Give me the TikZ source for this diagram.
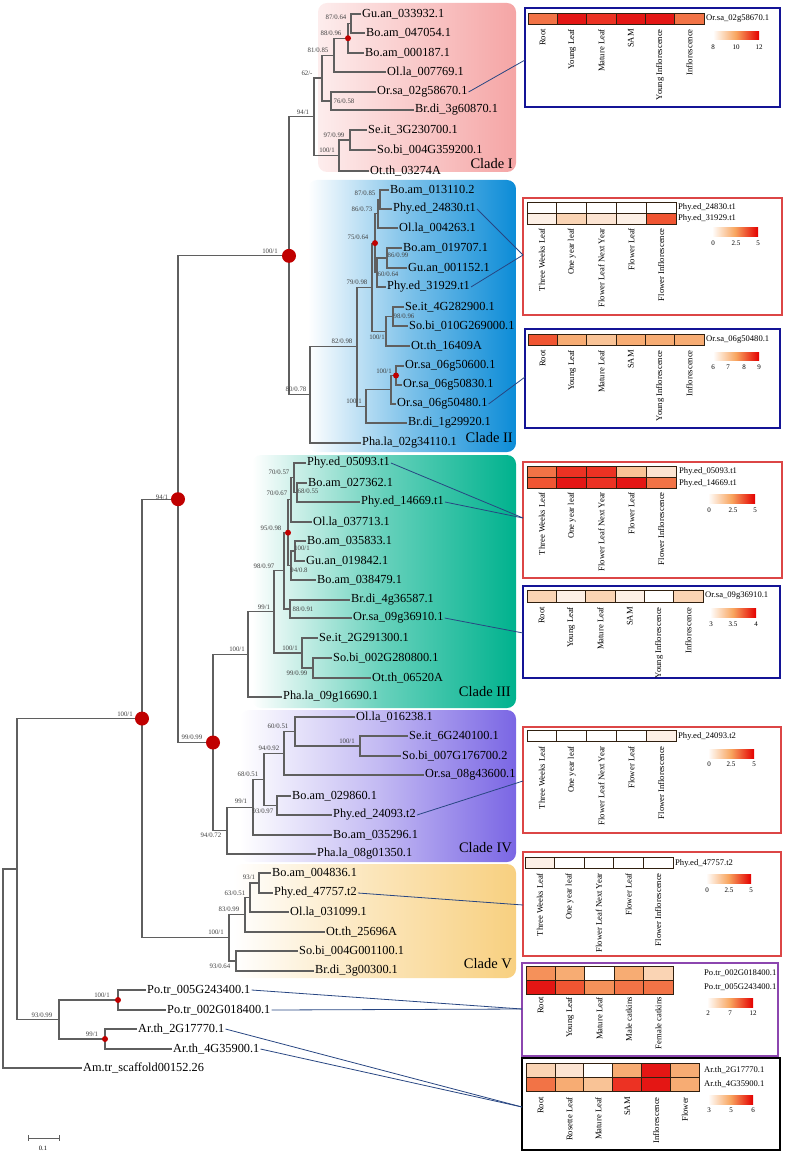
\documentclass[tikz,border=0pt]{standalone}
\usepackage{fontspec}
\setmainfont{Liberation Serif}
\definecolor{branchc}{RGB}{95,95,95}
\definecolor{dotc}{RGB}{192,0,0}
\definecolor{linkc}{RGB}{40,70,130}
\definecolor{cladeI}{RGB}{245,165,165}
\definecolor{cladeII}{RGB}{12,140,215}
\definecolor{cladeIII}{RGB}{0,178,142}
\definecolor{cladeIV}{RGB}{122,102,228}
\definecolor{cladeV}{RGB}{248,208,128}
\definecolor{boxblue}{RGB}{20,20,150}
\definecolor{boxred}{RGB}{220,70,70}
\definecolor{boxpurple}{RGB}{140,70,175}
\definecolor{hmA}{RGB}{228,22,20}
\definecolor{hmB}{RGB}{236,50,35}
\definecolor{hmC}{RGB}{240,85,50}
\definecolor{hmD}{RGB}{242,115,70}
\definecolor{hmE}{RGB}{245,145,90}
\definecolor{hmF}{RGB}{247,172,115}
\definecolor{hmG}{RGB}{249,195,150}
\definecolor{hmH}{RGB}{250,212,180}
\definecolor{hmI}{RGB}{252,228,210}
\definecolor{hmJ}{RGB}{253,240,230}
\definecolor{legmid}{RGB}{248,165,95}
\definecolor{legred}{RGB}{228,0,0}
\tikzset{
  leaf/.style={anchor=west, inner sep=1pt, font=\fontsize{12.3}{14}\selectfont},
  bs/.style={inner sep=0pt, text=black!75, font=\fontsize{6.8}{8}\selectfont},
  cladelab/.style={anchor=east, inner sep=1pt, font=\fontsize{14.5}{16}\selectfont},
  clade/.style={rounded corners=9pt},
  branch/.style={draw=branchc, line width=1.1pt},
  link/.style={draw=linkc, line width=0.8pt},
  panel/.style={line width=2.2pt},
  cell/.style={draw=black!75!brown, line width=0.8pt},
  gene/.style={anchor=west, inner sep=1pt, font=\fontsize{8.6}{10}\selectfont},
  collab/.style={rotate=90, anchor=east, inner sep=1pt, font=\fontsize{8.6}{10}\selectfont},
  tick/.style={inner sep=0pt, font=\fontsize{7}{8}\selectfont},
  legbar/.style={left color=white, right color=legred, middle color=legmid}
}
\begin{document}
\begin{tikzpicture}[x=1pt,y=-1pt]
\useasboundingbox (0,0) rectangle (786,1158);

% clade backgrounds
\shade[clade, left color=cladeI!20, right color=cladeI] (318,3) rectangle (516,172);
\shade[clade, left color=white, right color=cladeII, middle color=cladeII!55] (308,180) rectangle (516,452);
\shade[clade, left color=white, right color=cladeIII, middle color=cladeIII!60] (252,455) rectangle (516,708);
\shade[clade, left color=white, right color=cladeIV, middle color=cladeIV!45] (240,710) rectangle (516,862);
\shade[clade, left color=white, right color=cladeV, middle color=cladeV!55] (233,864) rectangle (516,978);

% leaves
\draw
  (361,14) node[leaf] (gu1) {Gu.an\_033932.1}
  (365,33) node[leaf] (bo1) {Bo.am\_047054.1}
  (364,53) node[leaf] (bo2) {Bo.am\_000187.1}
  (386,72) node[leaf] (ol1) {Ol.la\_007769.1}
  (376,92) node[leaf] (or1) {Or.sa\_02g58670.1}
  (414,110) node[leaf] (br1) {Br.di\_3g60870.1}
  (367,130) node[leaf] (se1) {Se.it\_3G230700.1}
  (376,150) node[leaf] (so1) {So.bi\_004G359200.1}
  (369,171) node[leaf] (ot1) {Ot.th\_03274A}
  (389,190) node[leaf] (bo3) {Bo.am\_013110.2}
  (392,209) node[leaf] (ph1) {Phy.ed\_24830.t1}
  (398,228) node[leaf] (ol2) {Ol.la\_004263.1}
  (402,248) node[leaf] (bo4) {Bo.am\_019707.1}
  (407,268) node[leaf] (gu2) {Gu.an\_001152.1}
  (386,287) node[leaf] (ph2) {Phy.ed\_31929.t1}
  (404,307) node[leaf] (se2) {Se.it\_4G282900.1}
  (408,326) node[leaf] (so2) {So.bi\_010G269000.1}
  (410,346) node[leaf] (ot2) {Ot.th\_16409A}
  (404,366) node[leaf] (or2) {Or.sa\_06g50600.1}
  (402,385) node[leaf] (or3) {Or.sa\_06g50830.1}
  (396,404) node[leaf] (or4) {Or.sa\_06g50480.1}
  (407,423) node[leaf] (br2) {Br.di\_1g29920.1}
  (361,443) node[leaf] (pa1) {Pha.la\_02g34110.1}
  (306,463) node[leaf] (ph3) {Phy.ed\_05093.t1}
  (307,483) node[leaf] (bo5) {Bo.am\_027362.1}
  (360,502) node[leaf] (ph4) {Phy.ed\_14669.t1}
  (312,522) node[leaf] (ol3) {Ol.la\_037713.1}
  (306,541) node[leaf] (bo6) {Bo.am\_035833.1}
  (305,561) node[leaf] (gu3) {Gu.an\_019842.1}
  (316,580) node[leaf] (bo7) {Bo.am\_038479.1}
  (350,600) node[leaf] (br3) {Br.di\_4g36587.1}
  (352,618) node[leaf] (or5) {Or.sa\_09g36910.1}
  (318,638) node[leaf] (se3) {Se.it\_2G291300.1}
  (332,658) node[leaf] (so3) {So.bi\_002G280800.1}
  (371,678) node[leaf] (ot3) {Ot.th\_06520A}
  (282,697) node[leaf] (pa2) {Pha.la\_09g16690.1}
  (355,717) node[leaf] (ol4) {Ol.la\_016238.1}
  (408,736) node[leaf] (se4) {Se.it\_6G240100.1}
  (401,756) node[leaf] (so4) {So.bi\_007G176700.2}
  (424,775) node[leaf] (or6) {Or.sa\_08g43600.1}
  (291,796) node[leaf] (bo8) {Bo.am\_029860.1}
  (332,815) node[leaf] (ph5) {Phy.ed\_24093.t2}
  (332,835) node[leaf] (bo9) {Bo.am\_035296.1}
  (316,854) node[leaf] (pa3) {Pha.la\_08g01350.1}
  (271,873) node[leaf] (bo10) {Bo.am\_004836.1}
  (273,893) node[leaf] (ph6) {Phy.ed\_47757.t2}
  (289,912) node[leaf] (ol5) {Ol.la\_031099.1}
  (325,932) node[leaf] (ot4) {Ot.th\_25696A}
  (298,951) node[leaf] (so5) {So.bi\_004G001100.1}
  (314,971) node[leaf] (br4) {Br.di\_3g00300.1}
  (146,990) node[leaf] (po1) {Po.tr\_005G243400.1}
  (166,1010) node[leaf] (po2) {Po.tr\_002G018400.1}
  (137,1029) node[leaf] (ar1) {Ar.th\_2G17770.1}
  (172,1049) node[leaf] (ar2) {Ar.th\_4G35900.1}
  (82,1068) node[leaf] (am1) {Am.tr\_scaffold00152.26};

% internal nodes
\path
  (351,23.5) coordinate (n1)
  (348,38.25) coordinate (n2)
  (334,55.1) coordinate (n3)
  (331,101) coordinate (n4)
  (322,78.05) coordinate (n5)
  (350,140) coordinate (n6)
  (339,155.5) coordinate (n7)
  (314,116.8) coordinate (n8)
  (380,199.5) coordinate (m1)
  (378,213.75) coordinate (m2)
  (387,258) coordinate (m3)
  (377,272.5) coordinate (m4)
  (375,243.1) coordinate (m5)
  (393,316.5) coordinate (m6)
  (386,331.25) coordinate (m7)
  (372,287.2) coordinate (m8)
  (396,375.5) coordinate (o1)
  (391,389.75) coordinate (o2)
  (366,406.4) coordinate (o3)
  (357,346.8) coordinate (m9)
  (310,394.9) coordinate (m10)
  (289,255.85) coordinate (A)
  (297,492.5) coordinate (t1)
  (294,477.75) coordinate (t2)
  (291,499.9) coordinate (t3)
  (295,551) coordinate (t4)
  (291,565.5) coordinate (t5)
  (288,532.7) coordinate (t6)
  (290,609) coordinate (t7)
  (284,570.85) coordinate (t8)
  (313,668) coordinate (t11)
  (302,653) coordinate (t10)
  (274,611.9) coordinate (t9)
  (248,654.45) coordinate (t12)
  (360,746) coordinate (f1)
  (295,731.5) coordinate (f2)
  (284,753.25) coordinate (f3)
  (277,805.5) coordinate (f4)
  (264,779.4) coordinate (f5)
  (253,807.2) coordinate (f6)
  (227,830.6) coordinate (f7)
  (213,742.5) coordinate (C)
  (178,499.2) coordinate (B)
  (259,883) coordinate (v1)
  (250,897.5) coordinate (v2)
  (245,914.75) coordinate (v3)
  (236,961) coordinate (v4)
  (229,937.9) coordinate (v5)
  (142,718.55) coordinate (D)
  (118,1000) coordinate (p1)
  (105,1039) coordinate (p2)
  (59,1019.5) coordinate (p3)
  (17,869) coordinate (E)
  (3,968.5) coordinate (F);

\begin{scope}[branch]
  \draw (gu1.west) -| (n1) |- (bo1.west);
  \draw (n1) -| (n2) |- (bo2.west);
  \draw (n2) -| (n3) |- (ol1.west);
  \draw (or1.west) -| (n4) |- (br1.west);
  \draw (n3) -| (n5) |- (n4);
  \draw (se1.west) -| (n6) |- (so1.west);
  \draw (n6) -| (n7) |- (ot1.west);
  \draw (n5) -| (n8) |- (n7);
  \draw (bo3.west) -| (m1) |- (ph1.west);
  \draw (m1) -| (m2) |- (ol2.west);
  \draw (bo4.west) -| (m3) |- (gu2.west);
  \draw (m3) -| (m4) |- (ph2.west);
  \draw (m2) -| (m5) |- (m4);
  \draw (se2.west) -| (m6) |- (so2.west);
  \draw (m6) -| (m7) |- (ot2.west);
  \draw (m5) -| (m8) |- (m7);
  \draw (or2.west) -| (o1) |- (or3.west);
  \draw (o1) -| (o2) |- (or4.west);
  \draw (o2) -| (o3) |- (br2.west);
  \draw (m8) -| (m9) |- (o3);
  \draw (m9) -| (m10) |- (pa1.west);
  \draw (n8) -| (A) |- (m10);
  \draw (bo5.west) -| (t1) |- (ph4.west);
  \draw (ph3.west) -| (t2) |- (t1);
  \draw (t2) -| (t3) |- (ol3.west);
  \draw (bo6.west) -| (t4) |- (gu3.west);
  \draw (t4) -| (t5) |- (bo7.west);
  \draw (t3) -| (t6) |- (t5);
  \draw (br3.west) -| (t7) |- (or5.west);
  \draw (t6) -| (t8) |- (t7);
  \draw (so3.west) -| (t11) |- (ot3.west);
  \draw (se3.west) -| (t10) |- (t11);
  \draw (t8) -| (t9) |- (t10);
  \draw (t9) -| (t12) |- (pa2.west);
  \draw (se4.west) -| (f1) |- (so4.west);
  \draw (ol4.west) -| (f2) |- (f1);
  \draw (f2) -| (f3) |- (or6.west);
  \draw (bo8.west) -| (f4) |- (ph5.west);
  \draw (f3) -| (f5) |- (f4);
  \draw (f5) -| (f6) |- (bo9.west);
  \draw (f6) -| (f7) |- (pa3.west);
  \draw (t12) -| (C) |- (f7);
  \draw (A) -| (B) |- (C);
  \draw (bo10.west) -| (v1) |- (ph6.west);
  \draw (v1) -| (v2) |- (ol5.west);
  \draw (v2) -| (v3) |- (ot4.west);
  \draw (so5.west) -| (v4) |- (br4.west);
  \draw (v3) -| (v5) |- (v4);
  \draw (B) -| (D) |- (v5);
  \draw (po1.west) -| (p1) |- (po2.west);
  \draw (ar1.west) -| (p2) |- (ar2.west);
  \draw (p1) -| (p3) |- (p2);
  \draw (D) -| (E) |- (p3);
  \draw (E) -| (F) |- (am1.west);
\end{scope}

% supported nodes
\fill[dotc] (A) circle (7) (B) circle (7) (C) circle (7) (D) circle (7);
\fill[dotc] (n2) circle (3) (m5) circle (3) (o1) circle (3) (t6) circle (3)
  (p1) circle (3) (p2) circle (3);

% bootstrap / posterior values
\draw
  (336,17) node[bs] (s1) {87/0.64}
  (331,33) node[bs] (s2) {88/0.96}
  (318,50) node[bs] (s3) {81/0.85}
  (344,101) node[bs] (s4) {76/0.58}
  (307,73) node[bs] (s5) {62/-}
  (334,135) node[bs] (s6) {97/0.99}
  (327,150) node[bs] (s7) {100/1}
  (303,112) node[bs] (s8) {94/1}
  (365,193) node[bs] (s9) {87/0.85}
  (362,209) node[bs] (s10) {86/0.73}
  (398,255) node[bs] (s11) {86/0.99}
  (388,274) node[bs] (s12) {60/0.64}
  (358,237) node[bs] (s13) {75/0.64}
  (404,316) node[bs] (s14) {98/0.96}
  (377,337) node[bs] (s15) {100/1}
  (357,282) node[bs] (s16) {79/0.98}
  (384,371) node[bs] (s17) {100/1}
  (354,401) node[bs] (s18) {100/1}
  (342,341) node[bs] (s19) {82/0.98}
  (296,389) node[bs] (s20) {80/0.78}
  (270,251) node[bs] (s21) {100/1}
  (308,491) node[bs] (s22) {68/0.55}
  (279,472) node[bs] (s23) {70/0.57}
  (277,493) node[bs] (s24) {70/0.67}
  (302,548) node[bs] (s25) {100/1}
  (299,570) node[bs] (s26) {94/0.8}
  (271,528) node[bs] (s27) {95/0.98}
  (303,609) node[bs] (s28) {88/0.91}
  (264,566) node[bs] (s29) {98/0.97}
  (297,673) node[bs] (s30) {99/0.99}
  (290,648) node[bs] (s31) {100/1}
  (264,607) node[bs] (s32) {99/1}
  (237,649) node[bs] (s33) {100/1}
  (347,741) node[bs] (s34) {100/1}
  (278,726) node[bs] (s35) {60/0.51}
  (269,748) node[bs] (s36) {94/0.92}
  (263,811) node[bs] (s37) {93/0.97}
  (248,774) node[bs] (s38) {68/0.51}
  (241,801) node[bs] (s39) {99/1}
  (211,835) node[bs] (s40) {94/0.72}
  (192,737) node[bs] (s41) {99/0.99}
  (162,497) node[bs] (s42) {94/1}
  (249,877) node[bs] (s43) {93/1}
  (235,893) node[bs] (s44) {63/0.51}
  (229,909) node[bs] (s45) {83/0.99}
  (220,966) node[bs] (s46) {93/0.64}
  (216,932) node[bs] (s47) {100/1}
  (125,714) node[bs] (s48) {100/1}
  (102,995) node[bs] (s49) {100/1}
  (92,1034) node[bs] (s50) {99/1}
  (42,1015) node[bs] (s51) {93/0.99};

% clade names
\draw
  (514,164) node[cladelab] (cl1) {Clade I}
  (514,438) node[cladelab] (cl2) {Clade II}
  (512,692) node[cladelab] (cl3) {Clade III}
  (513,848) node[cladelab] (cl4) {Clade IV}
  (513,964) node[cladelab] (cl5) {Clade V};

% scale bar
\draw[branchc, line width=0.8pt] (28,1135) -- (28,1141) (28,1138) -- (59,1138) (59,1135) -- (59,1141);
\node[tick, font=\fontsize{6.5}{7}\selectfont] (sc) at (43,1148) {0.1};

% panel 1
\draw[panel, boxblue] (525,8) rectangle (780,107);
\filldraw[cell, fill=hmD] (528,13) rectangle (557.3,24);
\filldraw[cell, fill=hmA] (557.3,13) rectangle (586.7,24);
\filldraw[cell, fill=hmB] (586.7,13) rectangle (616,24);
\filldraw[cell, fill=hmA] (616,13) rectangle (645.3,24);
\filldraw[cell, fill=hmA] (645.3,13) rectangle (674.7,24);
\filldraw[cell, fill=hmD] (674.7,13) rectangle (704,24);
\node[gene] (g1) at (705,19) {Or.sa\_02g58670.1};
\draw
  (542.7,28) node[collab] (c1a) {Root}
  (572,28) node[collab] (c1b) {Young Leaf}
  (601.3,28) node[collab] (c1c) {Mature Leaf}
  (630.7,28) node[collab] (c1d) {SAM}
  (660,28) node[collab] (c1e) {Young Inflorescence}
  (689.3,28) node[collab] (c1f) {Inflorescence};
\shade[legbar] (713,32) rectangle (759,40);
\draw (713,47) node[tick] (k1a) {8} (736,47) node[tick] (k1b) {10} (759,47) node[tick] (k1c) {12};
\coordinate (in1) at (525,60);

% panel 2
\draw[panel, boxred] (523,198) rectangle (782,315);
\filldraw[cell, fill=white] (527,202) rectangle (556.8,213);
\filldraw[cell, fill=white] (556.8,202) rectangle (586.6,213);
\filldraw[cell, fill=white] (586.6,202) rectangle (616.4,213);
\filldraw[cell, fill=white] (616.4,202) rectangle (646.2,213);
\filldraw[cell, fill=white] (646.2,202) rectangle (676,213);
\filldraw[cell, fill=hmJ] (527,213) rectangle (556.8,224);
\filldraw[cell, fill=hmH] (556.8,213) rectangle (586.6,224);
\filldraw[cell, fill=hmI] (586.6,213) rectangle (616.4,224);
\filldraw[cell, fill=hmJ] (616.4,213) rectangle (646.2,224);
\filldraw[cell, fill=hmC] (646.2,213) rectangle (676,224);
\node[gene] (g2a) at (677,207) {Phy.ed\_24830.t1};
\node[gene] (g2b) at (677,218) {Phy.ed\_31929.t1};
\draw
  (541.9,227) node[collab] (c2a) {Three Weeks Leaf}
  (571.7,227) node[collab] (c2b) {One year leaf}
  (601.5,227) node[collab] (c2c) {Flower Leaf Next Year}
  (631.3,227) node[collab] (c2d) {Flower Leaf}
  (661.1,227) node[collab] (c2e) {Flower Inflorescence};
\shade[legbar] (712,228) rectangle (758,237);
\draw (713,243) node[tick] (k2a) {0} (736,243) node[tick] (k2b) {2.5} (758,243) node[tick] (k2c) {5};
\coordinate (in2) at (523,255);

% panel 3
\draw[panel, boxblue] (525,329) rectangle (780,428);
\filldraw[cell, fill=hmC] (528,334) rectangle (557.3,345);
\filldraw[cell, fill=hmF] (557.3,334) rectangle (586.7,345);
\filldraw[cell, fill=hmG] (586.7,334) rectangle (616,345);
\filldraw[cell, fill=hmF] (616,334) rectangle (645.3,345);
\filldraw[cell, fill=hmF] (645.3,334) rectangle (674.7,345);
\filldraw[cell, fill=hmF] (674.7,334) rectangle (704,345);
\node[gene] (g3) at (705,340) {Or.sa\_06g50480.1};
\draw
  (542.7,349) node[collab] (c3a) {Root}
  (572,349) node[collab] (c3b) {Young Leaf}
  (601.3,349) node[collab] (c3c) {Mature Leaf}
  (630.7,349) node[collab] (c3d) {SAM}
  (660,349) node[collab] (c3e) {Young Inflorescence}
  (689.3,349) node[collab] (c3f) {Inflorescence};
\shade[legbar] (713,352) rectangle (759,360);
\draw (713,367) node[tick] (k3a) {6} (728,367) node[tick] (k3b) {7}
  (744,367) node[tick] (k3c) {8} (759,367) node[tick] (k3d) {9};
\coordinate (in3) at (525,377);

% panel 4
\draw[panel, boxred] (523,462) rectangle (782,578);
\filldraw[cell, fill=hmD] (527,466) rectangle (556.8,477);
\filldraw[cell, fill=hmB] (556.8,466) rectangle (586.6,477);
\filldraw[cell, fill=hmB] (586.6,466) rectangle (616.4,477);
\filldraw[cell, fill=hmG] (616.4,466) rectangle (646.2,477);
\filldraw[cell, fill=hmI] (646.2,466) rectangle (676,477);
\filldraw[cell, fill=hmC] (527,477) rectangle (556.8,488);
\filldraw[cell, fill=hmA] (556.8,477) rectangle (586.6,488);
\filldraw[cell, fill=hmB] (586.6,477) rectangle (616.4,488);
\filldraw[cell, fill=hmA] (616.4,477) rectangle (646.2,488);
\filldraw[cell, fill=hmD] (646.2,477) rectangle (676,488);
\node[gene] (g4a) at (678,471) {Phy.ed\_05093.t1};
\node[gene] (g4b) at (678,483) {Phy.ed\_14669.t1};
\draw
  (541.9,491) node[collab] (c4a) {Three Weeks Leaf}
  (571.7,491) node[collab] (c4b) {One year leaf}
  (601.5,491) node[collab] (c4c) {Flower Leaf Next Year}
  (631.3,491) node[collab] (c4d) {Flower Leaf}
  (661.1,491) node[collab] (c4e) {Flower Inflorescence};
\shade[legbar] (708,494) rectangle (755,503);
\draw (709,510) node[tick] (k4a) {0} (733,510) node[tick] (k4b) {2.5} (755,510) node[tick] (k4c) {5};
\coordinate (in4) at (523,518);

% panel 5
\draw[panel, boxblue] (523,586) rectangle (780,678);
\filldraw[cell, fill=hmH] (527,590) rectangle (556.3,602);
\filldraw[cell, fill=hmJ] (556.3,590) rectangle (585.7,602);
\filldraw[cell, fill=hmH] (585.7,590) rectangle (615,602);
\filldraw[cell, fill=hmJ] (615,590) rectangle (644.3,602);
\filldraw[cell, fill=white] (644.3,590) rectangle (673.7,602);
\filldraw[cell, fill=hmH] (673.7,590) rectangle (703,602);
\node[gene] (g5) at (704,596) {Or.sa\_09g36910.1};
\draw
  (541.7,606) node[collab] (c5a) {Root}
  (571,606) node[collab] (c5b) {Young Leaf}
  (600.3,606) node[collab] (c5c) {Mature Leaf}
  (629.7,606) node[collab] (c5d) {SAM}
  (659,606) node[collab] (c5e) {Young Inflorescence}
  (688.3,606) node[collab] (c5f) {Inflorescence};
\shade[legbar] (710,608) rectangle (756,617);
\draw (711,624) node[tick] (k5a) {3} (733,624) node[tick] (k5b) {3.5} (756,624) node[tick] (k5c) {4};
\coordinate (in5) at (523,633);

% panel 6
\draw[panel, boxred] (523,727) rectangle (781,833);
\filldraw[cell, fill=white] (527,730) rectangle (556.8,741);
\filldraw[cell, fill=white] (556.8,730) rectangle (586.6,741);
\filldraw[cell, fill=white] (586.6,730) rectangle (616.4,741);
\filldraw[cell, fill=white] (616.4,730) rectangle (646.2,741);
\filldraw[cell, fill=hmJ] (646.2,730) rectangle (676,741);
\node[gene] (g6) at (677,736) {Phy.ed\_24093.t2};
\draw
  (541.9,745) node[collab] (c6a) {Three Weeks Leaf}
  (571.7,745) node[collab] (c6b) {One year leaf}
  (601.5,745) node[collab] (c6c) {Flower Leaf Next Year}
  (631.3,745) node[collab] (c6d) {Flower Leaf}
  (661.1,745) node[collab] (c6e) {Flower Inflorescence};
\shade[legbar] (708,749) rectangle (754,758);
\draw (709,764) node[tick] (k6a) {0} (731,764) node[tick] (k6b) {2.5} (754,764) node[tick] (k6c) {5};
\coordinate (in6) at (523,781);

% panel 7
\draw[panel, boxred] (523,852) rectangle (781,956);
\filldraw[cell, fill=hmJ] (525,857) rectangle (554.6,868);
\filldraw[cell, fill=white] (554.6,857) rectangle (584.2,868);
\filldraw[cell, fill=white] (584.2,857) rectangle (613.8,868);
\filldraw[cell, fill=white] (613.8,857) rectangle (643.4,868);
\filldraw[cell, fill=white] (643.4,857) rectangle (673,868);
\node[gene] (g7) at (674,863) {Phy.ed\_47757.t2};
\draw
  (539.8,872) node[collab] (c7a) {Three Weeks Leaf}
  (569.4,872) node[collab] (c7b) {One year leaf}
  (599,872) node[collab] (c7c) {Flower Leaf Next Year}
  (628.6,872) node[collab] (c7d) {Flower Leaf}
  (658.2,872) node[collab] (c7e) {Flower Inflorescence};
\shade[legbar] (706,874) rectangle (751,883);
\draw (707,890) node[tick] (k7a) {0} (729,890) node[tick] (k7b) {2.5} (751,890) node[tick] (k7c) {5};
\coordinate (in7) at (523,905);

% panel 8
\draw[panel, boxpurple] (522,963) rectangle (778,1056);
\filldraw[cell, fill=hmE] (526,966) rectangle (555.4,980);
\filldraw[cell, fill=hmF] (555.4,966) rectangle (584.8,980);
\filldraw[cell, fill=white] (584.8,966) rectangle (614.2,980);
\filldraw[cell, fill=hmF] (614.2,966) rectangle (643.6,980);
\filldraw[cell, fill=hmH] (643.6,966) rectangle (673,980);
\filldraw[cell, fill=hmA] (526,980) rectangle (555.4,994);
\filldraw[cell, fill=hmC] (555.4,980) rectangle (584.8,994);
\filldraw[cell, fill=hmE] (584.8,980) rectangle (614.2,994);
\filldraw[cell, fill=hmD] (614.2,980) rectangle (643.6,994);
\filldraw[cell, fill=hmD] (643.6,980) rectangle (673,994);
\node[gene] (g8a) at (703,973) {Po.tr\_002G018400.1};
\node[gene] (g8b) at (703,987) {Po.tr\_005G243400.1};
\draw
  (540.7,996) node[collab] (c8a) {Root}
  (570.1,996) node[collab] (c8b) {Young Leaf}
  (599.5,996) node[collab] (c8c) {Mature Leaf}
  (628.9,996) node[collab] (c8d) {Male catkins}
  (658.3,996) node[collab] (c8e) {Female catkins};
\shade[legbar] (707,998) rectangle (753,1007);
\draw (708,1013) node[tick] (k8a) {2} (730,1013) node[tick] (k8b) {7} (753,1013) node[tick] (k8c) {12};
\coordinate (in8) at (522,1009);

% panel 9
\draw[panel, black] (522,1058) rectangle (780,1150);
\filldraw[cell, fill=hmH] (526,1063) rectangle (554.9,1077);
\filldraw[cell, fill=hmI] (554.9,1063) rectangle (583.8,1077);
\filldraw[cell, fill=white] (583.8,1063) rectangle (612.7,1077);
\filldraw[cell, fill=hmF] (612.7,1063) rectangle (641.6,1077);
\filldraw[cell, fill=hmA] (641.6,1063) rectangle (670.5,1077);
\filldraw[cell, fill=hmF] (670.5,1063) rectangle (699.4,1077);
\filldraw[cell, fill=hmD] (526,1077) rectangle (554.9,1091);
\filldraw[cell, fill=hmF] (554.9,1077) rectangle (583.8,1091);
\filldraw[cell, fill=hmG] (583.8,1077) rectangle (612.7,1091);
\filldraw[cell, fill=hmB] (612.7,1077) rectangle (641.6,1091);
\filldraw[cell, fill=hmA] (641.6,1077) rectangle (670.5,1091);
\filldraw[cell, fill=hmF] (670.5,1077) rectangle (699.4,1091);
\node[gene] (g9a) at (703,1070) {Ar.th\_2G17770.1};
\node[gene] (g9b) at (703,1084) {Ar.th\_4G35900.1};
\draw
  (540.5,1096) node[collab] (c9a) {Root}
  (569.4,1096) node[collab] (c9b) {Rosette Leaf}
  (598.3,1096) node[collab] (c9c) {Mature Leaf}
  (627.2,1096) node[collab] (c9d) {SAM}
  (656.1,1096) node[collab] (c9e) {Inflorescence}
  (685,1096) node[collab] (c9f) {Flower};
\shade[legbar] (708,1095) rectangle (753,1104);
\draw (709,1110) node[tick] (k9a) {3} (731,1110) node[tick] (k9b) {5} (753,1110) node[tick] (k9c) {6};
\coordinate (in9) at (522,1107);

% links from genes to expression panels
\begin{scope}[link]
  \draw (or1.east) -- (in1);
  \draw (ph1.east) -- (in2);
  \draw (ph2.east) -- (in2);
  \draw (or4.east) -- (in3);
  \draw (ph3.east) -- (in4);
  \draw (ph4.east) -- (in4);
  \draw (or5.east) -- (in5);
  \draw (ph5.east) -- (in6);
  \draw (ph6.east) -- (in7);
  \draw (po1.east) -- (in8);
  \draw (po2.east) -- (in8);
  \draw (ar1.east) -- (in9);
  \draw (ar2.east) -- (in9);
\end{scope}
\end{tikzpicture}
\end{document}
